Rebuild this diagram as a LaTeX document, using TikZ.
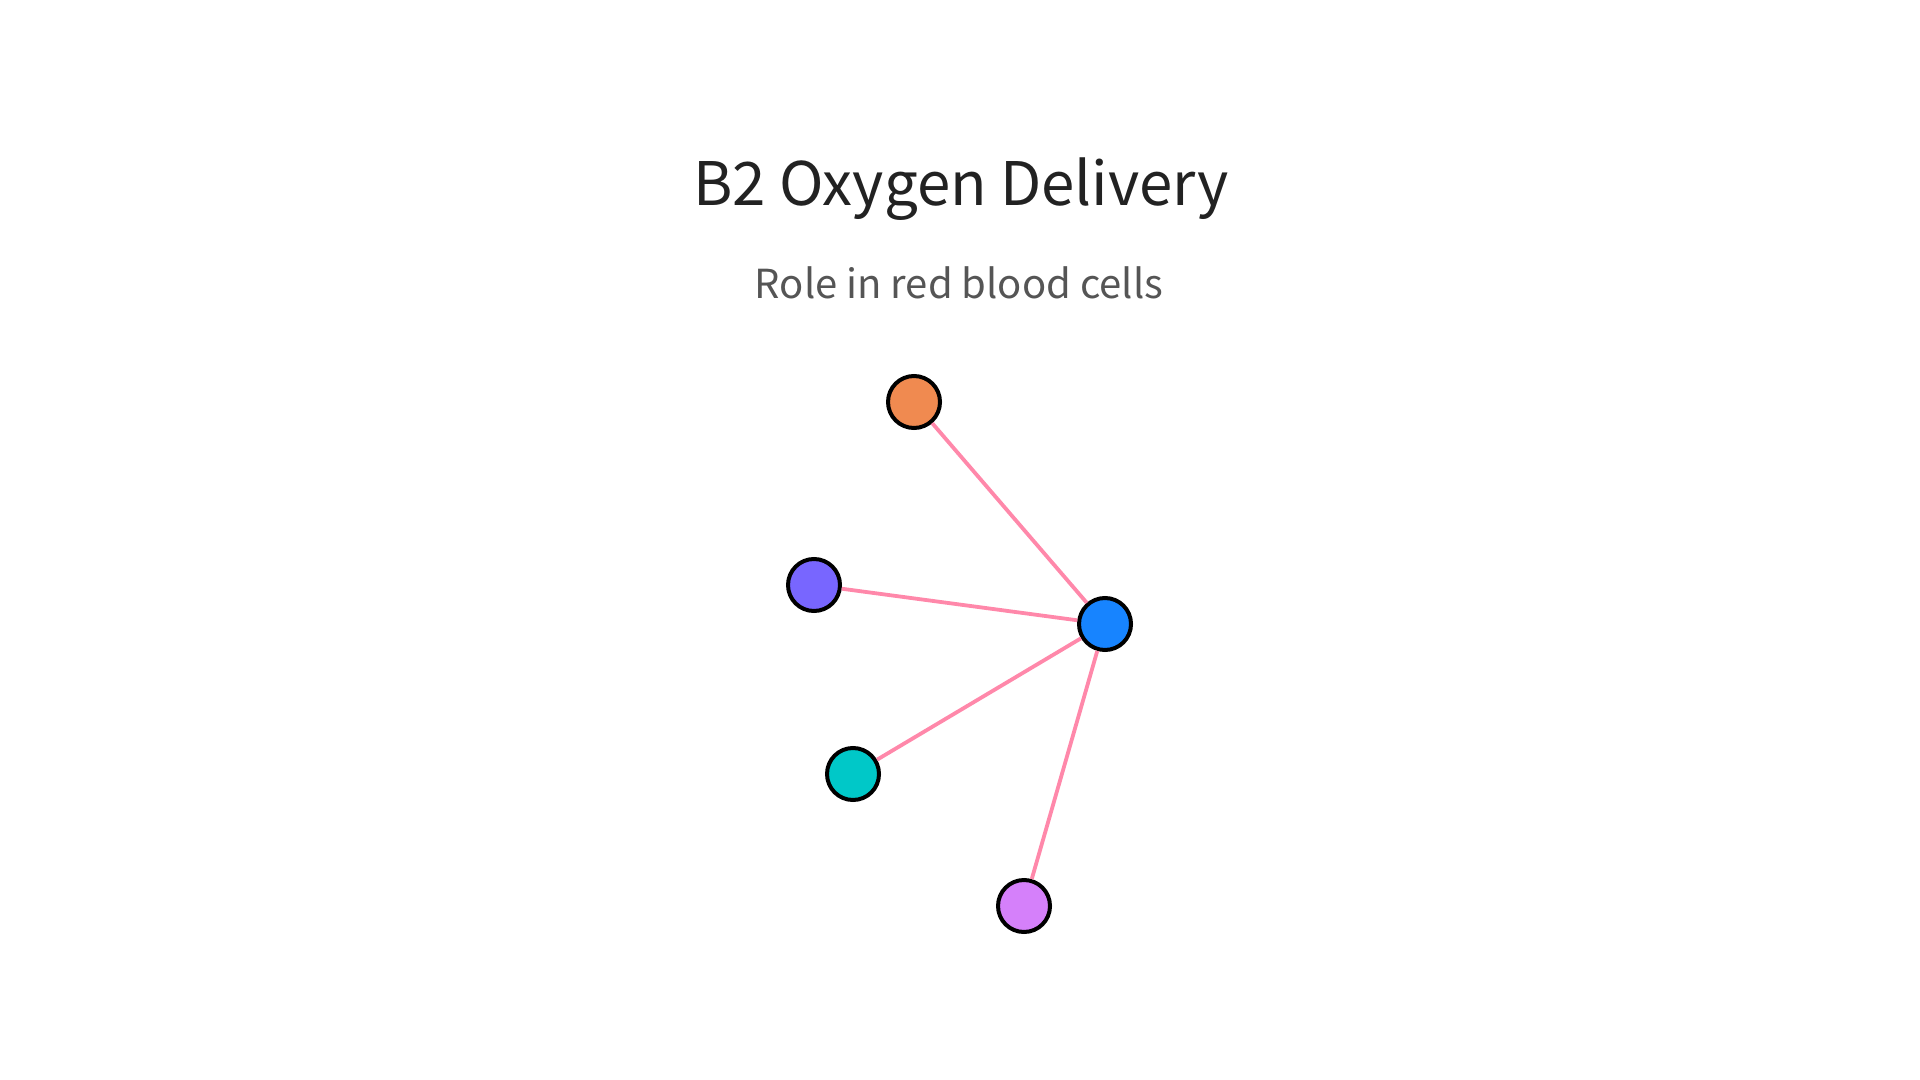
\documentclass[tikz,border=0pt]{standalone}
\usepackage{fontspec}
\setmainfont{Noto Sans CJK SC}
\definecolor{titlegray}{RGB}{34,34,34}
\definecolor{subgray}{RGB}{85,85,85}
\definecolor{edgepink}{RGB}{255,136,170}
\definecolor{dotorange}{RGB}{240,138,80}
\definecolor{dotpurple}{RGB}{120,102,255}
\definecolor{dotblue}{RGB}{23,132,255}
\definecolor{dotteal}{RGB}{0,200,200}
\definecolor{dotviolet}{RGB}{213,128,250}
\tikzset{
  dot/.style={circle, draw=black, line width=2pt, minimum size=26pt, inner sep=0pt},
  link/.style={draw=edgepink, line width=1.9pt},
}
\begin{document}
\begin{tikzpicture}[x=0.5pt,y=0.5pt,yscale=-1]
    \useasboundingbox (0,0) rectangle (1920,1080);
    
    % Title
    \node (title) [anchor=base, text=titlegray, font=\fontsize{30pt}{36pt}\selectfont] at (961,206) {B2 Oxygen Delivery};
    % Subtitle
    \node (subtitle) [anchor=base, text=subgray, font=\fontsize{20pt}{24pt}\selectfont] at (959,299) {Role in red blood cells};
    
    % Nodes
    \node (hub) [dot, fill=dotblue] at (1105,624) {};
    \node (top) [dot, fill=dotorange] at (914,402) {};
    \node (left) [dot, fill=dotpurple] at (814,585) {};
    \node (lower) [dot, fill=dotteal] at (853,774) {};
    \node (bottom) [dot, fill=dotviolet] at (1024,906) {};
    
    % Links
    \foreach \n in {top,left,lower,bottom}
      \draw [link] (hub) -- (\n);
    
\end{tikzpicture}
\end{document}
